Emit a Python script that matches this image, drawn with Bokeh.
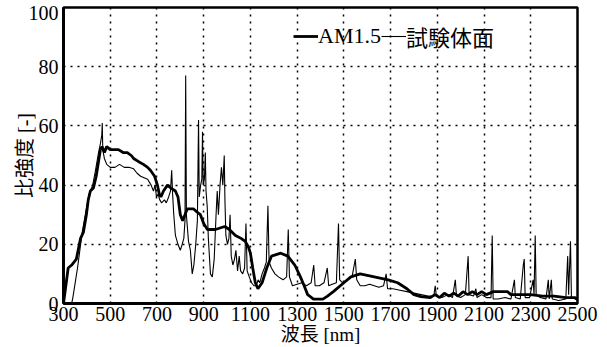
from bokeh.plotting import figure
from bokeh.models import Legend, LegendItem, FixedTicker, Label
from bokeh.embed import file_html
from bokeh.resources import INLINE

# ---- data ----
x_ticks = [300, 500, 700, 900, 1100, 1300, 1500, 1700, 1900, 2100, 2300, 2500]
y_ticks = [0, 20, 40, 60, 80, 100]

am15_nm = [300, 310, 320, 335, 355, 373, 385, 398, 406, 415, 428, 440, 450, 458, 465, 475, 485,
           500, 520, 535, 555, 573, 590, 600, 620, 642, 660, 672, 690, 702, 710, 717, 728, 745,
           760, 779, 790, 800, 810, 820, 830, 856, 870, 886, 900, 916, 950, 990, 1010, 1036,
           1060, 1078, 1092, 1100, 1110, 1121, 1132, 1150, 1170, 1190, 1230, 1260, 1290, 1314,
           1330, 1345, 1370, 1410, 1430, 1455, 1500, 1530, 1570, 1630, 1690, 1730, 1770, 1800,
           1830, 1870, 1890, 1910, 1930, 1950, 1970, 1990, 2010, 2030, 2050, 2070, 2090, 2110,
           2140, 2200, 2215, 2250, 2300, 2350, 2400, 2450, 2490, 2500]
am15_val = [0, 6, 12, 13, 15, 22, 24, 30, 35, 38, 39, 43, 48, 52, 53, 51, 53,
            52, 52, 52, 51, 51, 50, 49, 48, 47, 46, 45, 43, 40, 37, 36, 38, 40,
            39, 38, 36, 30, 28, 30, 32, 32, 31, 30, 27, 25, 25, 26, 25, 23,
            22, 21, 19, 17, 12, 7, 5, 7, 12, 16, 17, 16, 13, 9,
            6, 3, 1.5, 1.5, 2.5, 4, 7, 9, 10, 9, 8, 7, 5, 3,
            2.3, 2, 3, 2, 3.5, 2.5, 3.5, 2.5, 4, 3, 4, 3, 4, 3,
            4, 4, 3, 3, 3, 2.5, 2.5, 2, 2, 1.5]

test_nm = [300, 335, 340, 360, 380, 400, 410, 425, 437, 450, 458, 464, 466, 468, 475, 485,
           500, 520, 540, 560, 580, 600, 615, 630, 645, 660, 675, 685, 692, 698, 705, 712,
           720, 732, 740, 750, 758, 763, 767, 772, 779, 790, 800, 808, 815, 820, 823, 826,
           835, 843, 851, 858, 866, 873, 878, 881, 887, 892, 895, 898, 903, 907, 910, 915,
           920, 929, 937, 945, 953, 958, 963, 970, 976, 982, 988, 991, 995, 1002, 1008, 1013,
           1018, 1025, 1032, 1038, 1045, 1052, 1058, 1067, 1075, 1081, 1086, 1095, 1105, 1115,
           1125, 1133, 1140, 1150, 1160, 1168, 1175, 1180, 1190, 1205, 1220, 1240, 1255, 1262,
           1267, 1280, 1300, 1320, 1340, 1360, 1371, 1377, 1395, 1415, 1429, 1435, 1450, 1468,
           1477, 1482, 1495, 1515, 1535, 1549, 1555, 1570, 1590, 1610, 1630, 1650, 1670, 1681,
           1687, 1710, 1740, 1770, 1800, 1830, 1860, 1885, 1891, 1896, 1920, 1945, 1965, 1977,
           1982, 2000, 2020, 2032, 2036, 2055, 2065, 2070, 2090, 2110, 2130, 2135, 2139, 2160,
           2190, 2215, 2230, 2234, 2255, 2268, 2272, 2276, 2295, 2310, 2314, 2319, 2323, 2340,
           2365, 2375, 2379, 2388, 2392, 2420, 2450, 2458, 2462, 2470, 2474, 2490, 2500]
test_val = [0, 0, 2, 12, 24, 33, 37, 40, 45, 51, 54, 57, 61, 52, 49, 47,
            46, 46, 47, 46, 46, 45.5, 44, 43, 42.5, 42, 40, 38, 40, 36, 37, 35,
            34, 35, 34, 36, 38, 45, 37, 30, 23, 20, 18, 20, 22, 28, 77, 30,
            21, 18, 10, 13, 20, 28, 62, 36, 40, 42, 58, 40, 42, 51, 38, 33,
            22, 10, 9, 15, 30, 38, 30, 40, 46, 40, 50, 35, 23, 20, 22, 30,
            16, 13, 15, 18, 11, 16, 11, 10, 12, 27, 11, 9, 7, 6,
            6, 8, 7, 10, 12, 14, 33, 14, 12, 10, 9, 8, 9, 25,
            9, 6, 6.5, 7, 6, 7, 13, 6, 6, 7, 12, 6, 6.5, 7,
            27, 8, 7, 8, 9, 15, 8, 6, 6, 6.5, 6, 5.5, 6, 10,
            5, 5, 4.5, 4, 3.5, 3, 2.5, 2.5, 6, 2.5, 2, 3, 2, 8,
            2.5, 2, 3, 16, 3, 2.5, 5, 2, 3, 2, 2, 23, 1.5, 1.5,
            2, 1.5, 8, 2, 1.5, 13, 15, 2, 2, 8, 3, 23, 3, 2,
            1.5, 8, 1.5, 8, 1.5, 1, 1.5, 16, 3, 21, 2, 1.5, 1]

SERIF = "'Liberation Serif', 'Noto Sans CJK JP'"

p = figure(width=607, height=347, x_range=(300, 2500), y_range=(0, 100),
           output_backend="svg", toolbar_location=None,
           min_border_left=63, min_border_right=29, min_border_top=7, min_border_bottom=41)
p.background_fill_color = "white"
p.border_fill_color = "white"
p.outline_line_color = "black"
p.outline_line_width = 2.5

r_am = p.line(am15_nm, am15_val, line_color="black", line_width=2.8)
r_ts = p.line(test_nm, test_val, line_color="black", line_width=1.1)

p.xaxis.ticker = FixedTicker(ticks=x_ticks)
p.yaxis.ticker = FixedTicker(ticks=y_ticks)
for ax in (p.xaxis[0], p.yaxis[0]):
    ax.axis_line_width = 3
    ax.axis_line_color = "black"
    ax.major_tick_line_color = None
    ax.minor_tick_line_color = None
    ax.major_tick_in = 0
    ax.major_tick_out = 0
    ax.major_label_text_font = "Liberation Serif"
    ax.major_label_text_font_size = "20px"
    ax.major_label_text_color = "black"
    ax.axis_label_text_font = SERIF
    ax.axis_label_text_font_style = "normal"
    ax.axis_label_text_color = "black"
p.xaxis.axis_label_text_font_size = "19px"
p.yaxis.axis_label_text_font_size = "20px"
p.xaxis.axis_label_standoff = 0
p.yaxis.axis_label_standoff = 0
p.xaxis.major_label_standoff = 3
p.yaxis.major_label_standoff = 5
p.xaxis.axis_label = "波長 [nm]"
p.yaxis.axis_label = "比強度 [-]"

# top tick label "100" sits just below the frame's top edge in the reference;
# drawn as a data-anchored label from a side panel (centre annotations are clipped)
top_tick = y_ticks[-1]
p.yaxis.major_label_overrides = {top_tick: ""}
p.add_layout(Label(x=x_ticks[0], y=top_tick, x_units="data", y_units="data",
                   text=str(top_tick), text_align="right", text_baseline="top",
                   x_offset=-5, y_offset=2, text_font="Liberation Serif",
                   text_font_size="20px", text_color="black"), "right")

p.grid.grid_line_color = "black"
p.grid.grid_line_dash = "2 5"
p.grid.grid_line_width = 1.5
p.grid.grid_line_alpha = 1.0

legend = Legend(items=[LegendItem(label="AM1.5", renderers=[r_am]),
                       LegendItem(label="試験体面", renderers=[r_ts])],
                location=(230, 251), orientation="horizontal",
                glyph_width=25, glyph_height=20, label_standoff=0, spacing=0,
                padding=0, margin=0, border_line_color=None,
                background_fill_alpha=0, label_text_font=SERIF,
                label_text_font_size="22px", label_text_color="black")
p.add_layout(legend)

open("out.html", "w").write(file_html(p, INLINE))
